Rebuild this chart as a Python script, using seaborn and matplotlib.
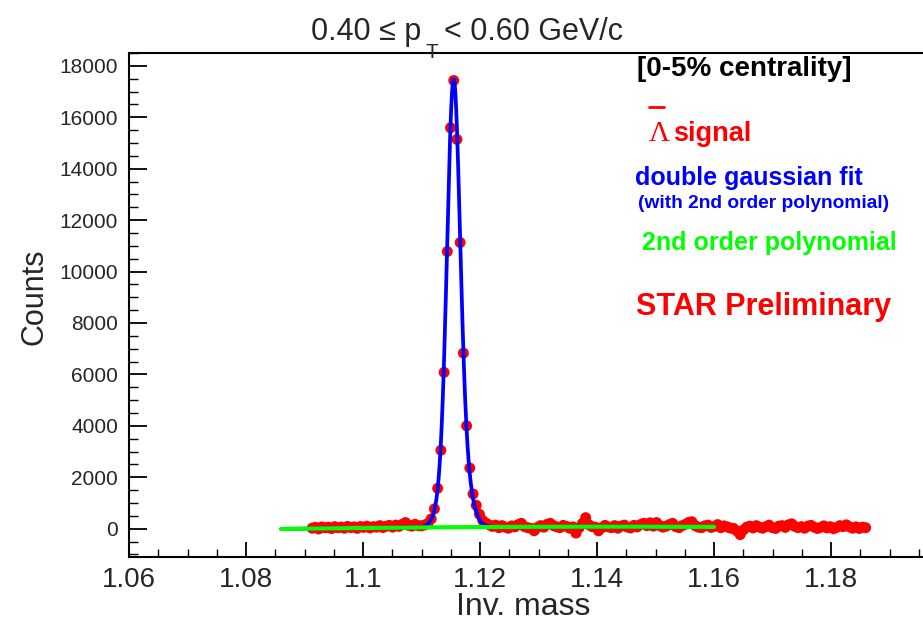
import numpy as np
import pandas as pd
import matplotlib
matplotlib.use('Agg')
import matplotlib.pyplot as plt
import seaborn as sns
from matplotlib.lines import Line2D
from matplotlib.ticker import MultipleLocator, FuncFormatter

# anti-lambda invariant mass histogram
mass_first = 1.0913
bin_width = 0.00055
counts = [
    # left side band, 1.0913 ... 1.1116
    20, 55, -10, 70, 35, 60, 5, 80, 40, 65,
    20, 90, 45, 70, 15, 85, 50, 100, 30, 80,
    60, 120, 45, 95, 130, 60, 140, 90, 170, 240,
    130, 100, 170, 120, 110, 150, 200, 380,
    # peak
    770, 1570, 3050, 6080, 10780, 15590, 17430, 15140, 11130, 6830,
    4000, 2360, 1350, 910, 560,
    # right side band
    320, 220, 150, 90, 140, 40, 120, 60, 20, 110,
    70, 160, 210, 80, 40, 10, -80, 50, 120, 60,
    170, 210, 120, 70, 40, 130, 90, 20, 70, -170,
    40, 210, 430, 150, 80, 60, -80, 40, 130, 70,
    40, 120, 20, 100, 140, 60, 30, 130, 70, 160,
    210, 120, 230, 100, 240, 120, 60, 100, 160, 210,
    80, 40, 120, 170, 250, 270, 120, 60, 40, 110,
    140, 50, 90, 160, 40, 110, 70, 20, 10, -90,
    -230, -50, 60, 100, 30, 120, 60, 20, 80, 140,
    40, 10, 100, 120, 50, 150, 190, 90, 40, 80,
    20, 100, 130, 60, 10, 50, 110, 30, 80, 0,
    50, 120, 80, 150, 70, 20, 70, 10, 60, 40,
]

# fit parameters: double gaussian on top of a 2nd order polynomial
gaus_amp = [13000, 4500]
gaus_mean = [1.11545, 1.11578]
gaus_sigma = [0.00105, 0.00176]
pol_ref = 1.12
pol_coef = [65, 1250, -28120]
fit_range = [1.086, 1.16]

W, H = 923, 624


def fpos(x, y):
    # pixel position -> figure fraction
    return x / W, 1 - y / H


mass = mass_first + bin_width * np.arange(len(counts))
hist = pd.DataFrame(dict(mass=mass, counts=counts))

grid = np.linspace(fit_range[0], fit_range[1], 2000)
bg = pol_coef[0] + pol_coef[1] * (grid - pol_ref) + pol_coef[2] * (grid - pol_ref) ** 2
sig = sum(a * np.exp(-0.5 * ((grid - m) / s) ** 2)
          for a, m, s in zip(gaus_amp, gaus_mean, gaus_sigma))
fit = pd.DataFrame(dict(mass=grid, total=bg + sig, bg=bg))

sns.set_style('white')
sns.set_style('ticks')
plt.rcParams['font.family'] = ['Liberation Sans', 'DejaVu Sans']

fig = plt.figure(figsize=(W / 100, H / 100), dpi=100)
ax = fig.add_axes([129 / W, 1 - 557 / H, 1 - 129 / W, (557 - 53) / H])

sns.scatterplot(data=hist, x='mass', y='counts', color='#ff0000', s=62,
                linewidth=0, edgecolor='none', ax=ax, zorder=2)
sns.lineplot(data=fit, x='mass', y='total', color='#0000ff', lw=2.7,
             estimator=None, sort=False, ax=ax, zorder=3)
sns.lineplot(data=fit, x='mass', y='bg', color='#00ff00', lw=3.0,
             estimator=None, sort=False, ax=ax, zorder=4)

ax.set_xlim(1.06, 1.1957)
ax.set_ylim(-1100, 18500)
ax.set_xlabel('')
ax.set_ylabel('')

ax.xaxis.set_major_locator(MultipleLocator(0.02))
ax.xaxis.set_minor_locator(MultipleLocator(0.005))
ax.yaxis.set_major_locator(MultipleLocator(2000))
ax.yaxis.set_minor_locator(MultipleLocator(500))
ax.xaxis.set_major_formatter(FuncFormatter(lambda v, p: f'{v:g}'))
ax.yaxis.set_major_formatter(FuncFormatter(lambda v, p: f'{v:.0f}'))

ax.tick_params(which='both', direction='in', top=False, right=False, color='black')
ax.tick_params(axis='x', which='major', length=11, width=1.3, labelsize=20, pad=7)
ax.tick_params(axis='x', which='minor', length=5.5, width=1.0)
ax.tick_params(axis='y', which='major', length=13, width=1.3, labelsize=15, pad=8)
ax.tick_params(axis='y', which='minor', length=6.5, width=1.0)

for side in ['left', 'bottom', 'top']:
    ax.spines[side].set_linewidth(1.5)
    ax.spines[side].set_color('black')
ax.spines['right'].set_visible(False)

# title with low subscript, drawn in pieces like the original
fig.text(*fpos(311, 40), '0.40 \u2264 p', fontsize=22, va='baseline', ha='left')
fig.text(*fpos(426, 58), 'T', fontsize=15, va='baseline', ha='left')
fig.text(*fpos(444, 40), '< 0.60 GeV/c', fontsize=22, va='baseline', ha='left')

fig.text(*fpos(523, 615), 'Inv. mass', fontsize=23, ha='center', va='baseline')
fig.text(*fpos(35, 297), 'Counts', fontsize=22, rotation=90, ha='center', va='center')

# annotations on the right
fig.text(*fpos(637, 76), '[0-5% centrality]', fontsize=20, fontweight='bold',
         color='black', va='baseline')
fig.text(*fpos(649, 141), '\u039b', fontsize=21, color='#ff0000', va='baseline',
         family=['Liberation Serif', 'DejaVu Serif'])
fig.add_artist(Line2D([649 / W, 664 / W], [1 - 106.5 / H] * 2, color='#ff0000',
                      lw=2, transform=fig.transFigure))
fig.text(*fpos(673, 141), 'signal', fontsize=19.5, fontweight='bold',
         color='#ff0000', va='baseline')
fig.text(*fpos(635, 185), 'double gaussian fit', fontsize=18, fontweight='bold',
         color='#0000ff', va='baseline')
fig.text(*fpos(638, 208), '(with 2nd order polynomial)', fontsize=13.8,
         fontweight='bold', color='#0000ff', va='baseline')
fig.text(*fpos(642, 250), '2nd order polynomial', fontsize=18, fontweight='bold',
         color='#00ff00', va='baseline')
fig.text(*fpos(636, 315), 'STAR Preliminary', fontsize=22, fontweight='bold',
         color='#ff0000', va='baseline')

fig.savefig('out.png', dpi=100)
